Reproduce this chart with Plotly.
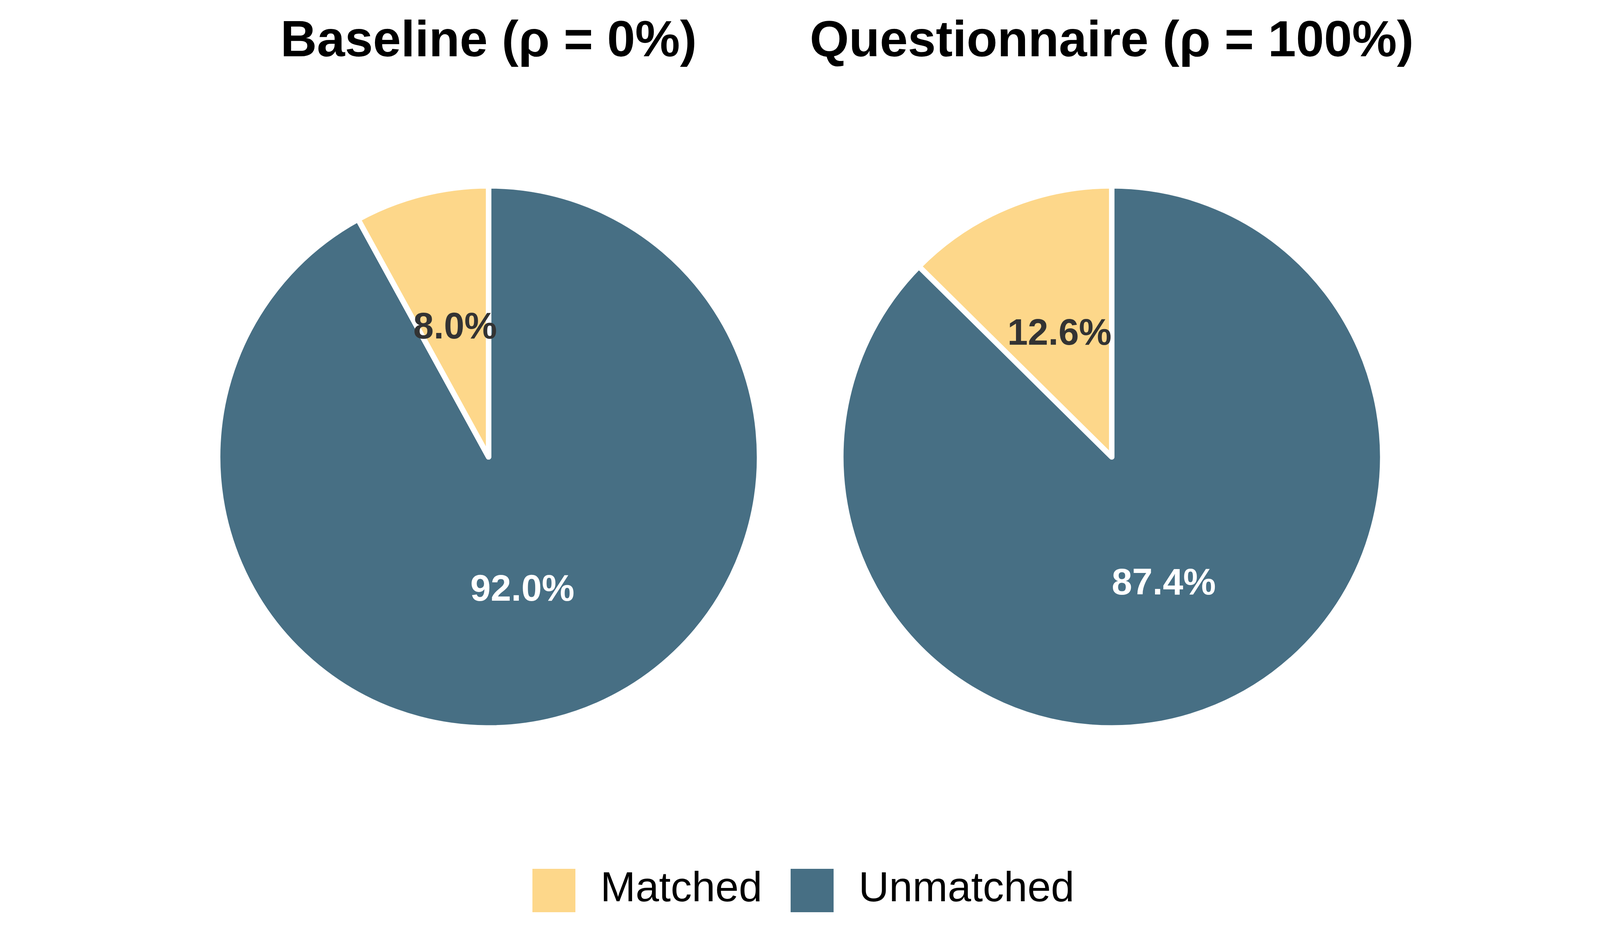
import math
import plotly.graph_objects as go

# --- data ---
categories = ["Matched", "Unmatched"]
baseline_pct = [8.0, 92.0]
questionnaire_pct = [12.6, 87.4]
panel_titles = ["Baseline (ρ = 0%)", "Questionnaire (ρ = 100%)"]
slice_colors = ["#FDD78A", "#476F84"]
label_colors = ["#333333", "#FFFFFF"]

FONT = "Liberation Sans, Arial, Helvetica, sans-serif"

# panel layout (paper fractions)
centers_x = [0.3046, 0.6956]
half_w = 0.17
dom_y = [0.182, 0.844]

fig = go.Figure()
annotations = []
layout_axes = {}

for i, (cx, vals, title) in enumerate(zip(centers_x, [baseline_pct, questionnaire_pct], panel_titles)):
    dom_x = [cx - half_w, cx + half_w]
    # plotly puts the first slice clockwise of 12 o'clock, so feed the
    # order reversed to get "Matched" running counter-clockwise from the top
    fig.add_trace(go.Pie(
        labels=categories[::-1],
        values=vals[::-1],
        sort=False,
        direction="counterclockwise",
        marker=dict(colors=slice_colors[::-1], line=dict(color="white", width=14)),
        textinfo="none",
        hoverinfo="label+percent",
        showlegend=False,
        domain=dict(x=dom_x, y=dom_y),
    ))

    # invisible square axes over the pie (unit = pie radius) for the labels
    n = "" if i == 0 else str(i + 1)
    layout_axes[f"xaxis{n}"] = dict(domain=dom_x, range=[-1, 1], visible=False,
                                    scaleanchor=f"y{n}", constrain="domain", fixedrange=True)
    layout_axes[f"yaxis{n}"] = dict(domain=dom_y, range=[-1, 1], visible=False,
                                    constrain="domain", fixedrange=True)

    total = sum(vals)
    cum = 0.0
    for v, col in zip(vals, label_colors):
        theta = 2 * math.pi * (cum + v / 2) / total  # counter-clockwise from top
        cum += v
        annotations.append(dict(
            x=-0.5 * math.sin(theta), y=0.5 * math.cos(theta),
            xref=f"x{n}", yref=f"y{n}",
            text=f"<b>{v:.1f}%</b>", showarrow=False,
            font=dict(family=FONT, size=94, color=col),
            xanchor="center", yanchor="middle",
        ))

    annotations.append(dict(
        x=cx, y=1, xref="paper", yref="paper", yshift=-165,
        text=f"<b>{title}</b>", showarrow=False,
        font=dict(family=FONT, size=129, color="black"),
        xanchor="center", yanchor="bottom",
    ))

# legend: fixed-size keys + text, centred at the bottom
shapes = []
key_off = [-685, -24]  # key left edge, pixels from the page centre
key_w, key_h, key_bottom = 110, 111, 58
for off, name, col in zip(key_off, categories, slice_colors):
    shapes.append(dict(
        type="rect", xref="paper", yref="paper",
        xsizemode="pixel", ysizemode="pixel", xanchor=0.5, yanchor=0,
        x0=off, x1=off + key_w, y0=key_bottom, y1=key_bottom + key_h,
        fillcolor=col, line=dict(width=0),
    ))
    annotations.append(dict(
        x=0.5, y=0, xref="paper", yref="paper",
        xshift=off + key_w + 62, yshift=key_bottom + key_h / 2 + 10,
        text=name, showarrow=False,
        font=dict(family=FONT, size=108, color="black"),
        xanchor="left", yanchor="middle",
    ))

fig.update_layout(
    autosize=True,
    margin=dict(l=0, r=0, t=0, b=0),
    paper_bgcolor="white", plot_bgcolor="white",
    showlegend=False,
    annotations=annotations,
    shapes=shapes,
    **layout_axes,
)

fig.write_html("out.html")
